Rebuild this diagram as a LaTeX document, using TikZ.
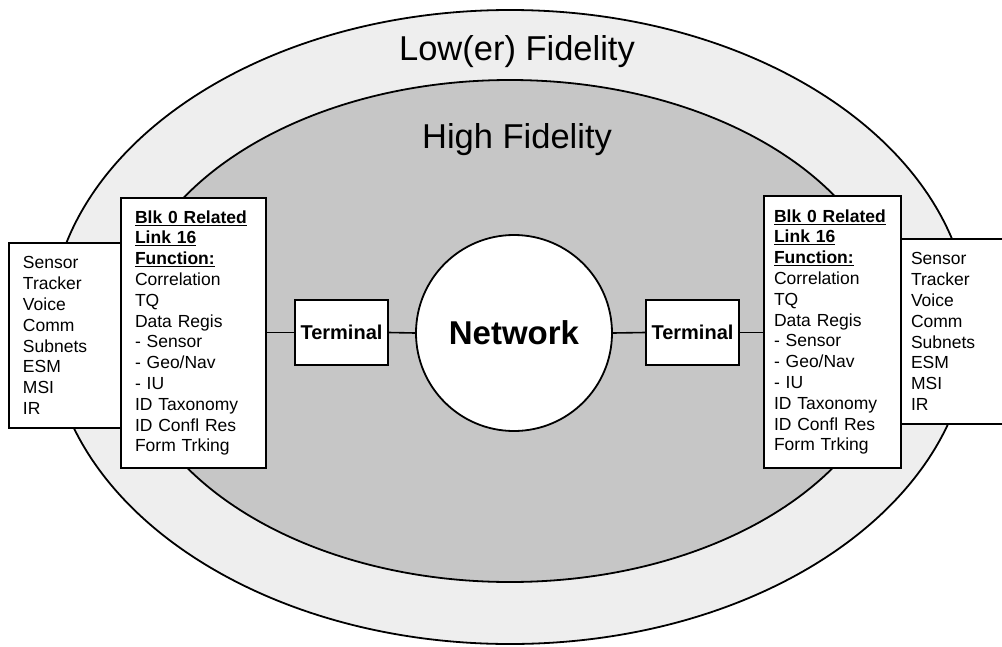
\documentclass[tikz,border=0pt]{standalone}
\usepackage{fontspec}
\setmainfont{Liberation Sans}
\begin{document}
\begin{tikzpicture}[x=1pt,y=-1pt,
  ring/.style={draw=black,line width=1.8pt},
  listbox/.style={draw=black,fill=white,line width=2pt,anchor=north west,
    align=left,font=\fontsize{17.5}{20.8}\selectfont,inner ysep=0pt},
  termbox/.style={draw=black,fill=white,line width=1.8pt,minimum width=93pt,
    minimum height=65pt,inner sep=0pt,font=\fontsize{20}{24}\selectfont\bfseries},
  link/.style={draw=black,line width=1.6pt},
  title/.style={font=\fontsize{34.5}{40}\selectfont,anchor=base,inner sep=0pt}]
\useasboundingbox (0,0) rectangle (1002,646);

% fidelity zones
\draw[ring,fill=gray!13] (510,327) ellipse [x radius=460pt, y radius=317pt];
\draw[ring,fill=gray!45] (510,331) ellipse [x radius=385pt, y radius=251pt];
\node[title] (low) at (517,60) {Low(er) Fidelity};
\node[title] (high) at (517,148) {High Fidelity};

% external source lists
\node[listbox,inner xsep=14pt,text width=87pt,minimum height=185pt] (srcL) at (8,242)
  {Sensor\\Tracker\\Voice\\Comm\\Subnets\\ESM\\MSI\\IR};
\node[listbox,inner xsep=13pt,text width=120pt,minimum height=185pt] (srcR) at (897,238)
  {Sensor\\Tracker\\Voice\\Comm\\Subnets\\ESM\\MSI\\IR};

% Link 16 function lists
\node[listbox,inner xsep=14pt,text width=117pt,minimum height=270pt] (funL) at (120,197)
  {\textbf{\underline{Blk 0 Related}}\\\textbf{\underline{Link 16}}\\\textbf{\underline{Function:}}\\
   Correlation\\TQ\\Data Regis\\- Sensor\\- Geo/Nav\\- IU\\ID Taxonomy\\ID Confl Res\\Form Trking};
\node[listbox,inner xsep=10pt,text width=117pt,minimum height=272pt] (funR) at (763,195)
  {\textbf{\underline{Blk 0 Related}}\\\textbf{\underline{Link 16}}\\\textbf{\underline{Function:}}\\
   Correlation\\TQ\\Data Regis\\- Sensor\\- Geo/Nav\\- IU\\ID Taxonomy\\ID Confl Res\\Form Trking};

% terminals and network
\node[termbox] (termL) at (341.5,332.5) {Terminal};
\node[termbox] (termR) at (692.5,332.5) {Terminal};
\node[circle,draw=black,fill=white,line width=1.8pt,minimum size=196pt,inner sep=0pt,
  font=\fontsize{33}{38}\selectfont\bfseries] (net) at (514,333) {Network};

% connectors
\draw[link] (termL.west -| funL.east) -- (termL.west);
\draw[link] (termL.east) -- (net.west);
\draw[link] (net.east) -- (termR.west);
\draw[link] (termR.east) -- (termR.east -| funR.west);
\end{tikzpicture}
\end{document}
